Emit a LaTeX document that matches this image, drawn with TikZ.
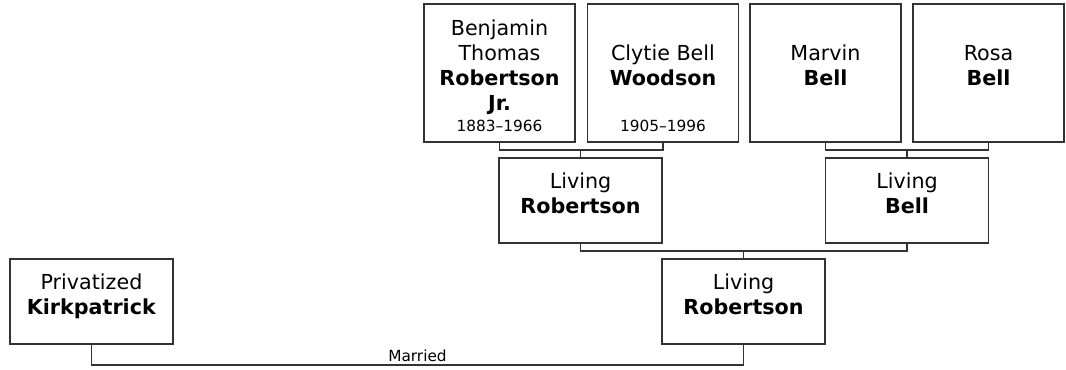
\documentclass[tikz,border=0pt]{standalone}
\usepackage{fontspec}
\setmainfont{DejaVu Sans}
\usetikzlibrary{positioning}

\begin{document}
\begin{tikzpicture}[
  x=0.75pt,y=-0.75pt,
  font=\fontsize{15.5}{18.75}\selectfont,
  line width=1.3pt,
  person/.style={draw=black!80,fill=white,align=center,inner sep=2pt,
    execute at end node={\rule[-11.3pt]{0pt}{0pt}}},
  elder/.style={person,minimum width=113.25pt,minimum height=103.5pt},
  child/.style={person,minimum width=122.25pt,minimum height=63.75pt},
  years/.style={font=\fontsize{11.5}{13}\selectfont,anchor=base,yshift=8.25pt,inner sep=0pt},
  link/.style={draw=black!80}
]
\useasboundingbox (0,0) rectangle (1066,369);

% Grandparents on the top row, explicit pixel coordinates
\node[elder,label={[years]south:1883–1966}] (benjamin) at (499.5,73)
  {Benjamin\\Thomas\\\textbf{Robertson}\\\textbf{Jr.}};
\node[elder,label={[years]south:1905–1996}] (clytie) at (663,73)
  {Clytie Bell\\\textbf{Woodson}};
\node[elder] (marvin) at (825.5,73) {Marvin\\\textbf{Bell}};
\node[elder] (rosa) at (988.5,73) {Rosa\\\textbf{Bell}};

% Parents
\node[child] (livingrob) at (580.5,200.5) {Living\\\textbf{Robertson}};
\node[child] (livingbell) at (907,200.5) {Living\\\textbf{Bell}};

% Couple on the bottom row
\node[child] (privatized) at (91.5,301.5) {Privatized\\\textbf{Kirkpatrick}};
\node[child] (livingrobjr) at (743.5,301.5) {Living\\\textbf{Robertson}};

% Family joints
\coordinate (robfamily) at (580.5,150);
\coordinate (bellfamily) at (907,150);
\coordinate (parents) at (743.5,251);
\coordinate (marriage) at (417.5,365);

\draw[link] (benjamin.south) |- (robfamily) -| (clytie.south);
\draw[link] (robfamily) -- (livingrob.north);
\draw[link] (marvin.south) |- (bellfamily) -| (rosa.south);
\draw[link] (bellfamily) -- (livingbell.north);
\draw[link] (livingrob.south) |- (parents) -| (livingbell.south);
\draw[link] (parents) -- (livingrobjr.north);
\draw[link] (privatized.south) |- (marriage) -| (livingrobjr.south);
\node[anchor=south,inner sep=1.5pt,font=\fontsize{11.5}{13}\selectfont] (married) at (marriage) {Married};
\end{tikzpicture}
\end{document}
